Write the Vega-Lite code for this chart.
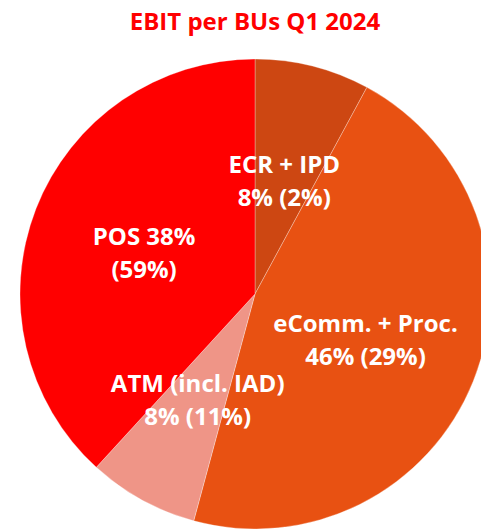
{
  "$schema": "https://vega.github.io/schema/vega-lite/v6.json",
  "autosize": "none",
  "width": 510,
  "height": 470,
  "padding": {"top": 59, "left": 0, "right": 0, "bottom": 0},
  "background": "white",
  "title": {
    "text": "EBIT per BUs Q1 2024",
    "font": "Open Sans",
    "fontSize": 24,
    "fontWeight": "bold",
    "color": "#FF0000",
    "anchor": "middle",
    "baseline": "alphabetic",
    "offset": 4
  },
  "data": {
    "values": [
      {"idx": 1, "bu": "ECR + IPD", "share": 7.9, "label": "ECR + IPD\n8% (2%)"},
      {"idx": 2, "bu": "eComm. + Proc.", "share": 46.3, "label": "eComm. + Proc.\n46% (29%)"},
      {"idx": 3, "bu": "ATM (incl. IAD)", "share": 7.6, "label": "ATM (incl. IAD)\n8% (11%)"},
      {"idx": 4, "bu": "POS", "share": 38.2, "label": "POS 38%\n(59%)"}
    ]
  },
  "encoding": {
    "theta": {"field": "share", "type": "quantitative", "stack": true},
    "order": {"field": "idx", "type": "quantitative"}
  },
  "layer": [
    {
      "mark": {"type": "arc", "outerRadius": 235, "stroke": "white", "strokeWidth": 0.3},
      "encoding": {
        "color": {
          "field": "bu",
          "type": "nominal",
          "scale": {
            "domain": ["ECR + IPD", "eComm. + Proc.", "ATM (incl. IAD)", "POS"],
            "range": ["#CD4712", "#E85112", "#EF9587", "#FF0000"]
          },
          "legend": null
        }
      }
    },
    {
      "mark": {
        "type": "text",
        "radius": 119,
        "font": "Open Sans",
        "fontSize": 24,
        "fontWeight": "bold",
        "color": "white",
        "lineBreak": "\n",
        "lineHeight": 33,
        "align": "center",
        "baseline": "middle",
        "dy": -13
      },
      "encoding": {
        "text": {"field": "label", "type": "nominal"}
      }
    }
  ]
}
